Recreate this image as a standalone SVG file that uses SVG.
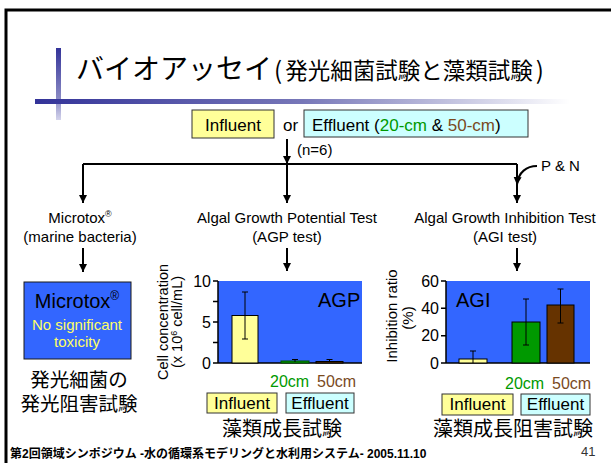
<svg xmlns="http://www.w3.org/2000/svg" width="611" height="463" viewBox="0 0 611 463">
<style>
text{font-family:"Liberation Sans","Noto Sans CJK JP",sans-serif;fill:#000}
.jp{font-family:"Noto Sans CJK JP","Liberation Sans",sans-serif}
.lbl{font-size:15px;text-anchor:middle}
.conn{stroke:#000;stroke-width:2;fill:none}
.inf{fill:#FFFF99;stroke:#333;stroke-width:1}
.eff{fill:#CCFFFF;stroke:#333;stroke-width:1}
.plot{fill:#3366FF}
.axis{stroke:#000;stroke-width:1.5;fill:none}
.err{stroke:#000;stroke-width:1;fill:none}
.tick{font-size:16px;text-anchor:end}
.g{fill:#009900}
.b{fill:#7A4A1E}
</style>
<defs>
<linearGradient id="vbar" x1="0" y1="0" x2="0" y2="1">
<stop offset="0" stop-color="#333399"/>
<stop offset="0.7" stop-color="#8a8ac4"/>
<stop offset="1" stop-color="#d4d4ec"/>
</linearGradient>
<linearGradient id="hbar" x1="0" y1="0" x2="1" y2="0">
<stop offset="0" stop-color="#333399"/>
<stop offset="0.5" stop-color="#7777b8"/>
<stop offset="1" stop-color="#ffffff"/>
</linearGradient>
<marker id="ah" viewBox="0 0 10 10" refX="10" refY="5" markerWidth="8" markerHeight="9" markerUnits="userSpaceOnUse" orient="auto">
<path d="M0,0 L10,5 L0,10 z" fill="#000"/>
</marker>
</defs>
<rect width="611" height="463" fill="#fff"/>
<!-- frame -->
<path d="M6,470 V10 H620" fill="none" stroke="#000" stroke-width="3"/>
<!-- title decoration -->
<rect x="56" y="48" width="5" height="72" fill="url(#vbar)"/>
<rect x="35" y="99" width="535" height="5" fill="url(#hbar)"/>
<g id="title">
<text x="76" y="79" font-size="28" class="jp">バイオアッセイ<tspan font-size="24" dx="2">(</tspan><tspan font-size="22.5" dx="3">発光細菌試験と藻類試験</tspan><tspan font-size="24" dx="3">)</tspan></text>
</g>
<g id="source">
<rect x="192" y="110" width="82" height="28" class="inf"/>
<text x="233" y="131" font-size="17" text-anchor="middle">Influent</text>
<text x="283" y="131" font-size="17">or</text>
<rect x="304" y="110" width="224" height="27" class="eff"/>
<text x="312" y="131" font-size="17">Effluent (<tspan class="g">20-cm</tspan> &amp; <tspan class="b">50-cm</tspan>)</text>
</g>
<g id="connectors">
<path class="conn" d="M287,139 V164" marker-end="url(#ah)"/>
<path class="conn" d="M83,164 H517"/>
<path class="conn" d="M83,164 V203" marker-end="url(#ah)"/>
<path class="conn" d="M287,164 V203" marker-end="url(#ah)"/>
<path class="conn" d="M517,164 V203" marker-end="url(#ah)"/>
<path class="conn" d="M537,166 C527,166 518,172 517,185" marker-end="url(#ah)"/>
<path class="conn" d="M83,248 V272" marker-end="url(#ah)"/>
<path class="conn" d="M287,248 V271" marker-end="url(#ah)"/>
<path class="conn" d="M517,248 V271" marker-end="url(#ah)"/>
</g>
<text x="297" y="155" font-size="15">(n=6)</text>
<text x="541" y="171" font-size="15">P &amp; N</text>
<g id="microtox-label">
<text x="80" y="223" class="lbl">Microtox<tspan font-size="9" dy="-6">®</tspan></text>
<text x="80" y="242" class="lbl">(marine bacteria)</text>
</g>
<g id="agp-label">
<text x="287" y="223" class="lbl">Algal Growth Potential Test</text>
<text x="287" y="242" class="lbl">(AGP test)</text>
</g>
<g id="agi-label">
<text x="505" y="223" class="lbl">Algal Growth Inhibition Test</text>
<text x="505" y="242" class="lbl">(AGI test)</text>
</g>
<g id="microtox-box">
<rect x="24" y="282" width="107" height="77" fill="#3366FF" stroke="#1a1a1a" stroke-width="1"/>
<text x="77" y="308" font-size="20" text-anchor="middle">Microtox<tspan font-size="12" dy="-8">®</tspan></text>
<text x="77" y="330" font-size="15" text-anchor="middle" style="fill:#FFFF66">No significant<tspan x="77" dy="17">toxicity</tspan></text>
<text x="79" y="387" font-size="19.5" text-anchor="middle" class="jp">発光細菌の</text>
<text x="79" y="411" font-size="19.5" text-anchor="middle" class="jp">発光阻害試験</text>
</g>
<g id="agp-chart">
<rect x="218" y="281" width="144" height="82" class="plot"/>
<path class="axis" d="M218,281 V363 H362 M213,281 H218 M213,301.5 H218 M213,322 H218 M213,342.5 H218 M213,363 H218"/>
<text x="211" y="287" class="tick">10</text>
<text x="211" y="328" class="tick">5</text>
<text x="211" y="369" class="tick">0</text>
<rect x="232" y="315.5" width="26" height="47.5" fill="#FFFF99" stroke="#000" stroke-width="1"/>
<path class="err" d="M245,292 V339 M242,292 H248 M242,339 H248"/>
<rect x="281" y="361" width="28" height="2" fill="#009900" stroke="#004d00" stroke-width="1"/>
<path class="err" d="M295,359.5 V362 M292,359.5 H298"/>
<rect x="316" y="361.5" width="27" height="1.5" fill="#663300" stroke="#000" stroke-width="1"/>
<path class="err" d="M329.5,359.5 V362 M326.5,359.5 H332.5"/>
<text x="318" y="307" font-size="20">AGP</text>
<text transform="translate(168,322) rotate(-90)" font-size="14.5" text-anchor="middle">Cell concentration</text>
<text transform="translate(182,322) rotate(-90)" font-size="14.5" text-anchor="middle">(x 10<tspan font-size="9" dy="-5">6</tspan><tspan dy="5"> cell/mL)</tspan></text>
<text x="270" y="387" font-size="16" class="g">20cm</text>
<text x="317" y="387" font-size="16" class="b">50cm</text>
<rect x="207" y="393" width="70" height="20" class="inf"/>
<text x="242" y="409" font-size="17" text-anchor="middle">Influent</text>
<rect x="286" y="393" width="68" height="20" class="eff"/>
<text x="320" y="409" font-size="17" text-anchor="middle">Effluent</text>
<text x="282" y="436" font-size="20" text-anchor="middle" class="jp">藻類成長試験</text>
</g>
<g id="agi-chart">
<rect x="446" y="281" width="144" height="82" class="plot"/>
<path class="axis" d="M446,281 V363 H590 M441,281 H446 M441,308.3 H446 M441,335.7 H446 M441,363 H446"/>
<text x="439" y="287" class="tick">60</text>
<text x="439" y="314" class="tick">40</text>
<text x="439" y="341" class="tick">20</text>
<text x="439" y="369" class="tick">0</text>
<rect x="459" y="359" width="28" height="4" fill="#FFFF99" stroke="#000" stroke-width="1"/>
<path class="err" d="M473,351 V363 M470,351 H476"/>
<rect x="512" y="322" width="28" height="41" fill="#009900" stroke="#000" stroke-width="1"/>
<path class="err" d="M526,299 V345 M523,299 H529 M523,345 H529"/>
<rect x="547" y="305" width="27" height="58" fill="#663300" stroke="#000" stroke-width="1"/>
<path class="err" d="M560.5,289 V323 M557.5,289 H563.5 M557.5,323 H563.5"/>
<text x="456" y="307" font-size="20">AGI</text>
<text transform="translate(397,316) rotate(-90)" font-size="15" text-anchor="middle">Inhibition ratio</text>
<text transform="translate(413,318) rotate(-90)" font-size="15" text-anchor="middle">(%)</text>
<text x="505" y="389" font-size="16" class="g">20cm</text>
<text x="552" y="389" font-size="16" class="b">50cm</text>
<rect x="442" y="394" width="71" height="21" class="inf"/>
<text x="477.5" y="410" font-size="17" text-anchor="middle">Influent</text>
<rect x="521" y="394" width="69" height="21" class="eff"/>
<text x="555.5" y="410" font-size="17" text-anchor="middle">Effluent</text>
<text x="513" y="436" font-size="20" text-anchor="middle" class="jp">藻類成長阻害試験</text>
</g>
<g id="footer">
<text x="10" y="458" font-size="12" font-weight="bold">第2回領域シンポジウム -水の循環系モデリングと水利用システム-  2005.11.10</text>
<text x="581" y="456" font-size="13" style="fill:#333">41</text>
</g>
</svg>
